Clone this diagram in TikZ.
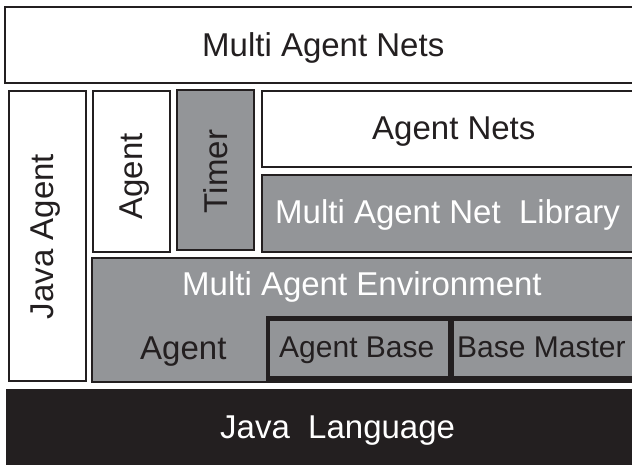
\documentclass[tikz,border=0pt]{standalone}
\usepackage{fontspec}
\setmainfont{Liberation Sans}
\definecolor{midgray}{RGB}{147,149,152}
\definecolor{ink}{RGB}{35,31,32}
\begin{document}
\begin{tikzpicture}[x=1pt,y=-1pt,
  box/.style={draw=ink, line width=1.5pt, inner sep=0pt, fill=white},
  graybox/.style={box, fill=midgray},
  thickbox/.style={draw=ink, line width=4.5pt, inner sep=0pt, fill=midgray},
  lab/.style={inner sep=0pt, anchor=base west, font=\fontsize{33}{36}\selectfont, text=ink},
  smalllab/.style={lab, font=\fontsize{30}{34}\selectfont},
  vlab/.style={inner sep=0pt, anchor=base, rotate=90, font=\fontsize{33}{36}\selectfont, text=ink}]
\useasboundingbox (0,0) rectangle (632,464);
\clip (0,0) rectangle (632,464);
% boxes
\node[box, minimum width=635pt, minimum height=76pt] (man) at (322.5,45) {};
\node[box, minimum width=77pt, minimum height=290pt] (javaagent) at (47.5,236) {};
\node[box, minimum width=77pt, minimum height=161pt] (agentv) at (131.5,171.5) {};
\node[graybox, minimum width=77pt, minimum height=160pt] (timer) at (215.5,170) {};
\node[box, minimum width=378pt, minimum height=76pt] (agentnets) at (451,129) {};
\node[graybox, minimum width=378pt, minimum height=77pt] (manl) at (451,213.5) {};
\node[graybox, minimum width=548pt, minimum height=124pt] (env) at (366,320) {};
\node[thickbox, minimum width=182pt, minimum height=60pt] (abase) at (359,348.4) {};
\node[thickbox, minimum width=188pt, minimum height=60pt] (bmaster) at (546,348.4) {};
\node[fill=ink, inner sep=0pt, minimum width=634pt, minimum height=81pt] (jlang) at (323,429.5) {};
% labels
\node[lab] (tman) at (202,56) {Multi Agent Nets};
\node[vlab] (tjavaagent) at (53,236.5) {Java Agent};
\node[vlab] (tagentv) at (142,176.5) {Agent};
\node[vlab] (ttimer) at (227,171.5) {Timer};
\node[lab] (tagentnets) at (372,139) {Agent Nets};
\node[lab, text=white] (tmanl) at (275,223) {Multi Agent Net\ \ Library};
\node[lab, text=white] (tenv) at (182,295) {Multi Agent Environment};
\node[lab] (tagent) at (140,359) {Agent};
\node[smalllab] (tabase) at (279,357) {Agent Base};
\node[smalllab] (tbmaster) at (457,357) {Base Master};
\node[lab, text=white] (tjlang) at (220,438) {Java\ \ Language};
\end{tikzpicture}
\end{document}
